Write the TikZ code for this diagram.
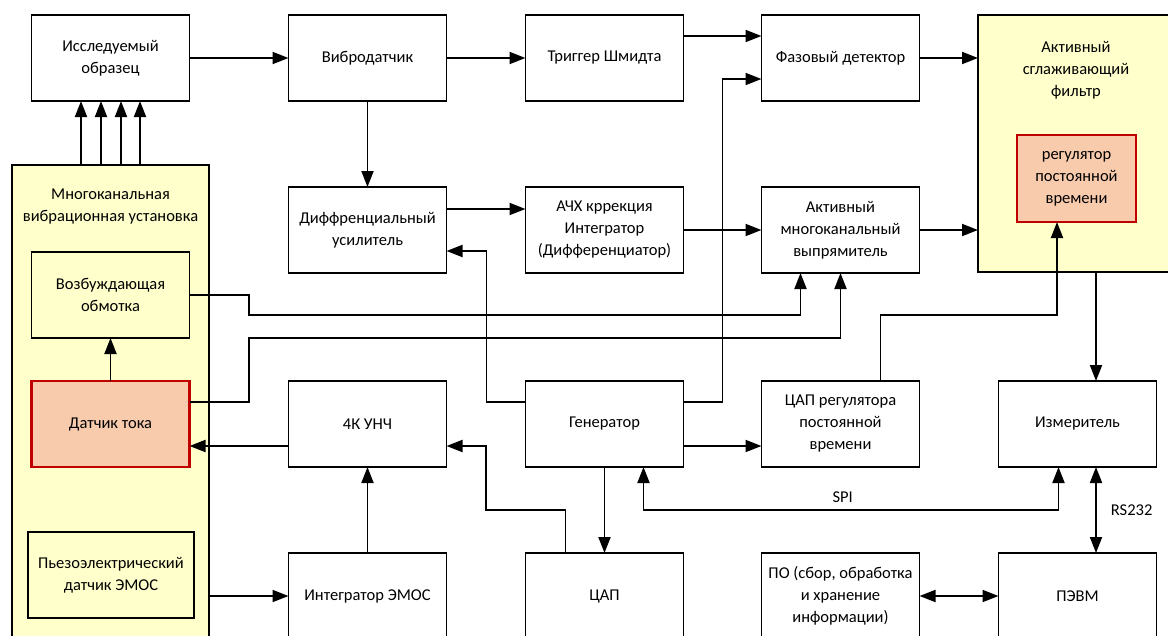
\documentclass[tikz,border=0pt]{standalone}
\usepackage{fontspec}
\setmainfont{Carlito}
\usepackage{tikz}
\usetikzlibrary{arrows.meta, positioning, calc}
\definecolor{paleyel}{HTML}{FFFFCC}
\definecolor{hotfill}{HTML}{F8CBAD}
\definecolor{hotline}{HTML}{C00000}
\tikzset{
  blk/.style={
    rectangle, draw=black, line width=1.9pt, minimum width=158pt, minimum height=86pt,
    inner sep=2pt, outer sep=0pt, align=center, fill=white, font=\fontsize{16.5}{22}\selectfont
  },
  pale/.style={blk, fill=paleyel},
  hot/.style={blk, fill=hotfill, draw=hotline, line width=2.8pt},
  conn/.style={-{Triangle[length=16pt, width=12pt]}, line width=1.9pt},
  biconn/.style={{Triangle[length=16pt, width=12pt]}-{Triangle[length=16pt, width=12pt]}, line width=1.9pt},
  caption/.style={font=\fontsize{16.5}{22}\selectfont, align=center, inner sep=0pt}
}

\begin{document}
\begin{tikzpicture}[x=1pt, y=-1pt]
    \useasboundingbox (0,0) rectangle (1168,635);
    % containers
    \node[pale, minimum width=197pt, minimum height=480pt, anchor=north west] (uMulti) at (12,165) {};
    \node[caption, below=24pt of uMulti.north] (tMulti) {Многоканальная\\вибрационная установка};
    \node[pale, minimum width=196pt, minimum height=257pt, anchor=north west] (fFilt) at (978,15) {};
    \node[caption, below=26pt of fFilt.north] (tFilt) {Активный\\сглаживающий\\фильтр};
    % blocks
    \node[blk] (nSample) at (110.5,58) {Исследуемый\\образец};
    \node[blk, right=99pt of nSample] (nVibro) {Вибродатчик};
    \node[blk, right=79pt of nVibro] (nTrig) {Триггер Шмидта};
    \node[blk, right=78pt of nTrig] (nPhase) {Фазовый детектор};
    \node[blk, below=86pt of nVibro] (nDiff) {Диффренциальный\\усилитель};
    \node[blk, right=79pt of nDiff] (nAfc) {АЧХ кррекция\\Интегратор\\(Дифференциатор)};
    \node[blk, right=78pt of nAfc] (nRect) {Активный\\многоканальный\\выпрямитель};
    \node[blk, below=108pt of nDiff] (nAmp) {4К УНЧ};
    \node[blk, right=79pt of nAmp] (nGen) {Генератор};
    \node[blk, right=78pt of nGen] (nDacReg) {ЦАП регулятора\\постоянной\\времени};
    \node[blk, right=79pt of nDacReg] (nMeter) {Измеритель};
    \node[blk, below=86pt of nAmp] (nInt) {Интегратор ЭМОС};
    \node[blk, right=79pt of nInt] (nDac) {ЦАП};
    \node[blk, right=78pt of nDac] (nSoft) {ПО (сбор, обработка\\и хранение\\информации)};
    \node[blk, right=79pt of nSoft] (nPc) {ПЭВМ};
    \node[pale] (nCoil) at (110.5,295) {Возбуждающая\\обмотка};
    \node[hot, left=99pt of nAmp] (nCur) {Датчик тока};
    \node[pale, minimum width=166pt] (nPiezo) at (111,575) {Пьезоэлектрический\\датчик ЭМОС};
    \node[hot, minimum width=119pt, minimum height=87pt] (nReg) at (1076.5,178.5) {регулятор\\постоянной\\времени};
    % connectors
    \foreach \xx in {81,101,121,140}
      \draw[conn] (\xx,0 |- uMulti.north) -- (\xx,0 |- nSample.south);
    \draw[conn] (nSample.east) -- (nVibro.west);
    \draw[conn] (nVibro.east) -- (nTrig.west);
    \draw[conn] ([yshift=22pt]nTrig.east) -- ([yshift=22pt]nPhase.west);
    \draw[conn] (nVibro.south) -- (nDiff.north);
    \draw[conn] ([yshift=21pt]nDiff.east) -- ([yshift=21pt]nAfc.west);
    \draw[conn] (nAfc.east) -- (nRect.west);
    \draw[conn] (nPhase.east) -- (nPhase.east -| fFilt.west);
    \draw[conn] (nRect.east) -- (nRect.east -| fFilt.west);
    \draw[conn] (1096,0 |- fFilt.south) -- (1096,0 |- nMeter.north);
    \draw[biconn] (1096,0 |- nMeter.south) -- node[right=14pt, caption] {RS232} (1096,0 |- nPc.north);
    \draw[biconn] (nSoft.east) -- (nPc.west);
    \draw[conn] ([yshift=22pt]nGen.west) -- ++(-39,0) |- ([yshift=-21pt]nDiff.east);
    \draw[conn] ([yshift=22pt]nGen.east) -- ++(39,0) |- ([yshift=-21pt]nPhase.west);
    \draw[conn] ([yshift=-22pt]nGen.east) -- ([yshift=-22pt]nDacReg.west);
    \draw[conn] (nGen.south) -- (nDac.north);
    \draw[conn] ([xshift=-39pt]nDac.north) |- (486,510) |- ([yshift=-22pt]nAmp.east);
    \draw[conn] ([yshift=-22pt]nAmp.west) -- ([yshift=-22pt]nCur.east);
    \draw[conn] (nInt.north) -- (nAmp.south);
    \draw[conn] (nInt.west -| uMulti.east) -- (nInt.west);
    \draw[conn] (nCur.north) -- (nCoil.south);
    \draw[conn] (nCoil.east) -| (249,315) -| ([xshift=-40pt]nRect.south);
    \draw[conn] ([yshift=22pt]nCur.east) -| (249,338) -| (nRect.south);
    \draw[conn] ([xshift=40pt]nDacReg.north) |- (1057,315) -- (1057,0 |- nReg.south);
    \draw[biconn] ([xshift=39pt]nGen.south) -- ++(0,43) -| node[above=6pt, pos=0.24, caption] {SPI} ([xshift=-19pt]nMeter.south);
\end{tikzpicture}
\end{document}
